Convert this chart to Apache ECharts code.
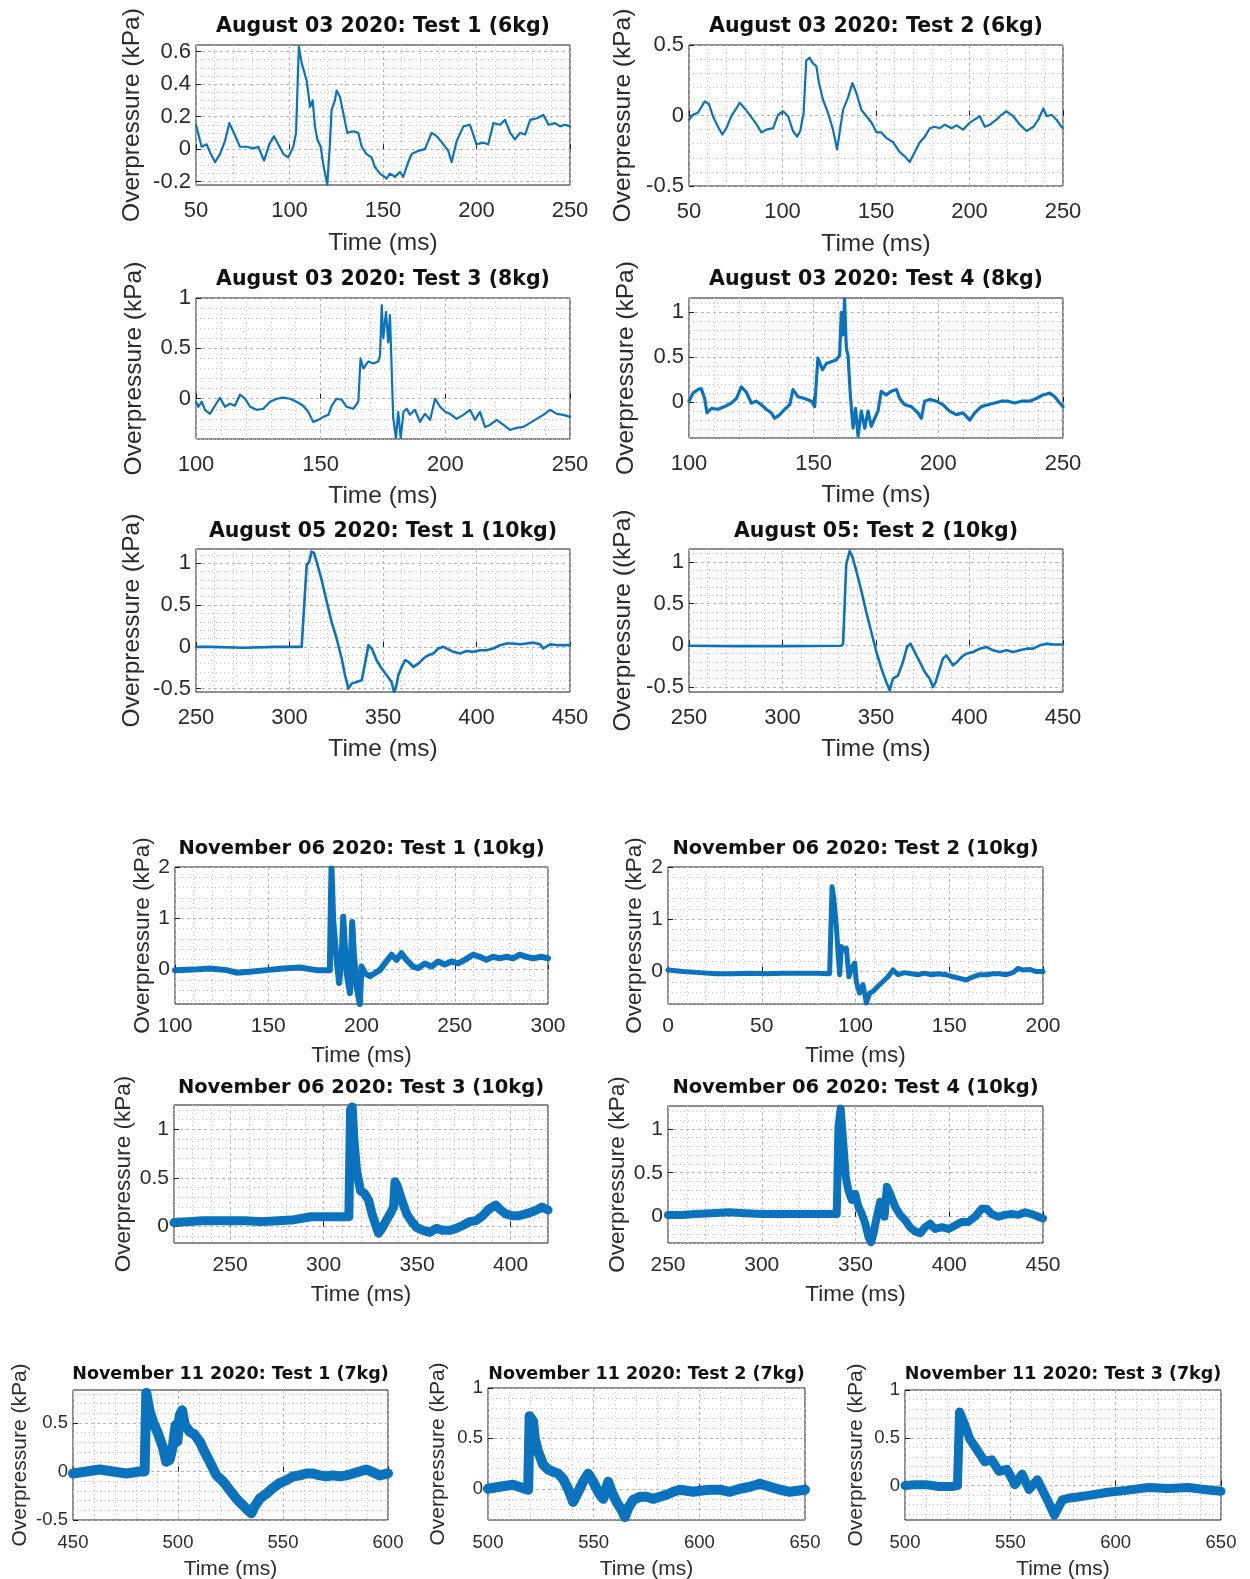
<!DOCTYPE html>
<html>
<head>
<meta charset="utf-8">
<script src="https://cdn.jsdelivr.net/npm/echarts@6/dist/echarts.min.js"></script>
<style>
  html, body { margin: 0; padding: 0; background: #fff; }
  #chart { width: 1250px; height: 1579px; }
</style>
</head>
<body>
<div id="chart"></div>
<script>
// Blast overpressure records: [time (ms), overpressure (kPa)]
const aug03Test1 = [[50,0.15],[53,0.015],[55.7,0.03],[57.5,-0.02],[60.2,-0.08],[62.8,-0.03],[65.5,0.05],[67.8,0.16],[70.3,0.10],[73.5,0.015],[77,0.015],[80.7,0.005],[83.3,0.015],[86.4,-0.07],[89.2,0.03],[91.7,0.08],[94,0.03],[96.7,-0.03],[99.4,-0.05],[102,0.015],[103.5,0.10],[105,0.63],[106.5,0.53],[109.2,0.42],[111,0.26],[112.4,0.30],[113.6,0.14],[114.9,0.06],[116.7,0.015],[118,-0.09],[120.2,-0.22],[121.6,0.03],[122.5,0.24],[124.3,0.30],[125.2,0.36],[127,0.32],[128.8,0.22],[130.9,0.10],[134.1,0.11],[136.8,0.10],[138.6,0.015],[141.2,-0.03],[143.9,-0.05],[145.7,-0.11],[148.4,-0.15],[152,-0.18],[153.7,-0.15],[156.4,-0.17],[159.1,-0.14],[160.8,-0.17],[163.5,-0.08],[165.3,-0.03],[168.9,-0.01],[172.4,0.00],[176,0.10],[178.7,0.08],[182.3,0.03],[184.9,-0.01],[186.7,-0.08],[189.4,0.05],[193,0.14],[196.5,0.15],[200,0.03],[203.7,0.04],[206.3,0.03],[209,0.16],[212.6,0.15],[215.3,0.18],[218,0.10],[220.6,0.06],[223.3,0.10],[226,0.09],[228.7,0.18],[232.3,0.19],[235.8,0.21],[238.5,0.15],[242,0.16],[244.7,0.14],[247.3,0.15],[250,0.14]];

const aug03Test2 = [[50,-0.03],[52.1,0.005],[54.8,0.02],[56.6,0.06],[58.4,0.10],[60.7,0.08],[62.8,-0.005],[65.5,-0.08],[67.8,-0.135],[70,-0.09],[72.6,-0.005],[75.3,0.05],[77.1,0.09],[79.8,0.05],[82.4,0.005],[86,-0.06],[88.7,-0.12],[91.4,-0.10],[95,-0.09],[97.6,0.005],[100.3,0.03],[103,-0.005],[105.6,-0.11],[107.8,-0.15],[109.5,-0.11],[111.3,0.02],[112.7,0.39],[114.5,0.41],[116.3,0.37],[118.1,0.35],[119.5,0.23],[121.7,0.11],[124.3,0.02],[127,-0.10],[129.2,-0.24],[131,-0.08],[132.4,0.04],[135.1,0.13],[137.4,0.23],[139.5,0.16],[142.2,0.04],[144.9,-0.005],[147.6,-0.05],[150.3,-0.12],[152.9,-0.12],[155.6,-0.16],[159.2,-0.19],[162.7,-0.26],[165.4,-0.29],[168,-0.33],[170.7,-0.26],[173.4,-0.19],[176.1,-0.15],[178.8,-0.09],[181.4,-0.08],[184.1,-0.09],[186.8,-0.065],[190.4,-0.09],[193,-0.07],[196.6,-0.10],[200.2,-0.05],[203.7,-0.02],[205.5,-0.005],[208.2,-0.08],[210.9,-0.065],[214.4,-0.03],[217.1,0.005],[219.8,0.03],[223.4,-0.005],[226.9,-0.065],[230.5,-0.11],[234.2,-0.08],[236.8,-0.03],[239.5,0.05],[241.3,-0.005],[243.9,0.005],[246.5,-0.03],[249.2,-0.08],[250,-0.09]];

const aug03Test3 = [[100,-0.03],[100.9,-0.08],[102.3,-0.03],[103.6,-0.11],[105.6,-0.15],[107.6,-0.07],[109.6,0.01],[111.6,-0.08],[113.6,-0.05],[115.6,-0.07],[117.6,0.04],[119.7,0.00],[121.7,-0.08],[124.3,-0.11],[127,-0.10],[129.7,-0.03],[132.4,0.00],[135,0.01],[137.7,0.00],[140.4,-0.03],[143,-0.07],[145,-0.13],[147,-0.23],[149,-0.21],[151.1,-0.18],[153.1,-0.16],[154.4,-0.07],[156.4,0.00],[158.4,-0.01],[160.4,-0.08],[163.1,-0.10],[165.1,-0.03],[166,0.40],[167.1,0.30],[169.1,0.37],[171.1,0.35],[173.1,0.37],[173.8,0.43],[174.5,0.93],[175.1,0.60],[176.2,0.86],[177.1,0.56],[177.8,0.83],[178.5,0.27],[179.1,-0.19],[180.2,-0.39],[181.1,-0.13],[182.1,-0.39],[183.2,-0.13],[184.5,-0.10],[185.8,-0.16],[187.8,-0.11],[189.8,-0.23],[191.8,-0.15],[193.9,-0.21],[195.9,0.00],[197.9,-0.08],[199.9,-0.13],[201.9,-0.15],[204.5,-0.20],[207.2,-0.16],[209.9,-0.11],[211.9,-0.21],[213.9,-0.13],[215.9,-0.28],[217.9,-0.26],[220.6,-0.21],[223.3,-0.26],[225.9,-0.31],[228.6,-0.29],[231.3,-0.28],[234,-0.24],[236.6,-0.20],[239.3,-0.16],[242,-0.11],[244.7,-0.15],[247.3,-0.16],[250,-0.18]];

const aug03Test4 = [[100,0.01],[101.6,0.10],[103.6,0.14],[104.9,0.15],[106.3,0.04],[107.2,-0.12],[109,-0.07],[111.6,-0.08],[114.3,-0.05],[117,-0.01],[119,0.04],[121,0.17],[123,0.11],[125,-0.01],[127,0.01],[129,-0.03],[131,-0.08],[133,-0.12],[134.4,-0.18],[136.4,-0.14],[138.4,-0.08],[140.4,-0.03],[141.7,0.14],[143.7,0.06],[146.4,0.04],[149.1,0.01],[150.4,-0.05],[151.7,0.49],[153.5,0.36],[155.1,0.43],[157.1,0.45],[159.1,0.47],[160.4,0.52],[161.1,1.00],[161.8,0.75],[162.4,1.15],[163.1,0.60],[163.8,0.52],[164.7,0.08],[165.8,-0.29],[166.8,-0.07],[167.8,-0.38],[169.1,-0.10],[170.5,-0.29],[171.8,-0.10],[173.1,-0.27],[174.5,-0.18],[175.8,-0.10],[177.1,0.12],[179.1,0.08],[181.1,0.12],[183.2,0.14],[184.5,0.04],[186.5,-0.03],[189.2,-0.05],[191.8,-0.12],[193.2,-0.18],[194.5,0.01],[196.5,0.03],[199.2,0.01],[201.9,-0.03],[204.5,-0.10],[207.2,-0.14],[209.9,-0.12],[212.6,-0.20],[214.6,-0.12],[217.2,-0.05],[219.9,-0.03],[222.6,-0.01],[225.3,0.01],[227.9,0.01],[230.6,-0.01],[233.3,0.01],[236.6,0.01],[239.3,0.04],[242,0.08],[244.7,0.10],[246.7,0.06],[248.7,-0.01],[250,-0.05]];

const aug05Test1 = [[250,0],[257.5,0],[275.3,-0.01],[293.1,0],[306.5,0],[307.4,0.02],[309.2,0.98],[310.6,1.02],[311.8,1.14],[313.1,1.12],[314.5,1.02],[317.2,0.80],[319.9,0.54],[322.5,0.30],[325.2,0.10],[327.9,-0.14],[329.7,-0.34],[331.5,-0.50],[333.2,-0.44],[335.9,-0.42],[338.6,-0.40],[340.4,-0.20],[342.2,0.02],[344,-0.02],[346.6,-0.16],[349.3,-0.26],[352,-0.34],[354.6,-0.42],[355.9,-0.54],[357,-0.48],[358.2,-0.34],[360,-0.24],[361.8,-0.16],[363.6,-0.18],[366.2,-0.24],[368.9,-0.20],[371.6,-0.14],[374.2,-0.10],[376.9,-0.08],[379.6,-0.02],[382.3,0],[384.9,-0.03],[387.6,-0.06],[391.2,-0.08],[394.7,-0.05],[398.3,-0.06],[401.9,-0.04],[405.4,-0.04],[409,-0.02],[412.6,0.02],[416.1,0.04],[419.7,0.04],[423.3,0.03],[426.8,0.04],[430.4,0.05],[434,0.03],[435.7,-0.02],[439.3,0.03],[443.7,0.02],[450,0.02]];

const aug05Test2 = [[250,-0.005],[273.5,-0.01],[300.3,-0.01],[331.5,-0.005],[332.4,0.02],[334.1,0.97],[335.9,1.13],[337.3,1.07],[339.5,0.89],[342.2,0.65],[344.8,0.40],[347.5,0.16],[350.2,-0.08],[352.9,-0.28],[355.5,-0.44],[357.3,-0.54],[359.1,-0.40],[361.8,-0.36],[364.4,-0.20],[366.6,-0.02],[368.4,0.02],[370.7,-0.08],[373.4,-0.20],[376.1,-0.32],[378.7,-0.40],[380.5,-0.50],[381.9,-0.44],[384.1,-0.28],[385.8,-0.16],[387.6,-0.12],[389.4,-0.18],[391.2,-0.24],[393.4,-0.20],[395.7,-0.14],[398.4,-0.10],[401.9,-0.08],[405.5,-0.04],[409.1,-0.02],[412.6,-0.06],[416.2,-0.08],[419.8,-0.06],[423.3,-0.08],[426.9,-0.06],[430.5,-0.04],[434,-0.04],[437.6,0],[441.2,0.02],[444.7,0.01],[450,0.01]];

const nov06Test1 = [[100,-0.01],[109.8,0.00],[118.8,0.02],[127.7,-0.01],[133,-0.06],[140.2,-0.04],[149.1,-0.01],[158,0.02],[167,0.04],[175.9,-0.01],[183,-0.01],[183.9,1.97],[184.8,0.97],[186.3,0.32],[188,-0.26],[189.3,0.19],[190.2,1.03],[191.1,0.45],[192.3,-0.13],[193.8,-0.46],[195,0.93],[195.9,0.32],[197.3,-0.33],[199.1,-0.67],[200,0.06],[201.8,-0.07],[204.5,-0.13],[207.1,-0.07],[209.8,-0.01],[212.5,0.12],[216.1,0.29],[218.8,0.19],[221.4,0.32],[224.1,0.19],[227.7,0.06],[230.4,0.03],[233.9,0.12],[237.5,0.06],[241.1,0.16],[244.6,0.10],[248.2,0.16],[251.8,0.12],[255.4,0.19],[259.8,0.29],[263.4,0.25],[267,0.19],[270.5,0.25],[274.1,0.22],[277.7,0.25],[281.3,0.22],[284.8,0.29],[288.4,0.25],[292,0.22],[296.4,0.25],[300,0.22]];

const nov06Test2 = [[0,0.03],[8,0],[16.9,-0.02],[25.8,-0.04],[34.7,-0.04],[43.6,-0.03],[52.4,-0.04],[61.3,-0.03],[70.2,-0.03],[79.1,-0.03],[86.2,-0.04],[87.5,1.62],[88.5,1.37],[89.8,0.86],[90.7,0.35],[91.6,-0.06],[92.4,0.48],[93.7,0.41],[95.1,0.45],[96.5,-0.10],[97.8,0.06],[99.6,0.16],[100.4,-0.19],[102.2,-0.41],[104,-0.25],[105.8,-0.60],[107.6,-0.41],[109.3,-0.38],[112,-0.28],[114.7,-0.19],[117.3,-0.10],[120,0.03],[122.7,-0.06],[126.2,-0.02],[129.8,-0.04],[133.3,-0.06],[136.9,-0.03],[140.4,-0.06],[144,-0.04],[148.4,-0.06],[152,-0.10],[155.6,-0.13],[159.1,-0.16],[162.7,-0.10],[166.2,-0.06],[169.8,-0.06],[173.3,-0.04],[176.9,-0.04],[180.4,-0.06],[184,-0.02],[186.7,0.06],[189.3,0.03],[192.9,0.04],[196.4,0],[200,0]];

const nov06Test3 = [[220,0.04],[227.9,0.05],[235,0.06],[242,0.06],[250,0.06],[257.9,0.06],[266.8,0.05],[275.6,0.06],[284.4,0.07],[293.2,0.10],[302.1,0.10],[309.1,0.10],[313.5,0.10],[314.4,1.20],[315.3,1.23],[316.2,0.89],[317.6,0.58],[319.7,0.37],[321.8,0.34],[324.1,0.27],[325.9,0.13],[327.6,0.03],[329.4,-0.07],[331.2,-0.02],[333.5,0.06],[335.6,0.13],[337.4,0.20],[338.2,0.46],[339.5,0.41],[341.8,0.27],[344.4,0.13],[347.1,0.05],[349.7,-0.01],[353.2,-0.04],[356.8,-0.06],[360.3,-0.02],[363.8,-0.04],[367.4,-0.04],[370.9,-0.02],[374.4,0.01],[378,0.05],[381.5,0.06],[385,0.11],[388.5,0.18],[392.1,0.22],[394.7,0.17],[397.4,0.13],[400.9,0.11],[404.4,0.11],[408,0.13],[411.5,0.15],[415,0.18],[416.8,0.20],[420,0.17]];

const nov06Test4 = [[250,0.02],[257.5,0.02],[264.6,0.03],[273.4,0.04],[282.3,0.05],[291.2,0.04],[300,0.03],[308.9,0.03],[317.8,0.03],[326.7,0.03],[335.5,0.03],[340,0.03],[340.9,1.02],[342.1,1.23],[343.6,0.80],[344.8,0.45],[346.2,0.30],[348,0.19],[349.8,0.26],[351.6,0.11],[353.4,0.03],[355.2,-0.08],[356.9,-0.23],[358.3,-0.29],[359.6,-0.19],[361.4,0.00],[363.2,0.17],[364.4,0.11],[365.5,0.00],[366.7,0.34],[368.5,0.26],[371.2,0.11],[373.8,0.02],[376.5,-0.04],[379.1,-0.12],[381.8,-0.17],[384.5,-0.19],[387.1,-0.12],[389.8,-0.08],[392.5,-0.14],[396,-0.12],[399.6,-0.14],[403.1,-0.10],[406.7,-0.06],[410.2,-0.06],[413.8,0.00],[417.3,0.09],[420,0.09],[422.6,0.03],[426.2,0.00],[429.7,0.02],[433.3,0.03],[436.8,0.02],[440.4,0.05],[443.9,0.03],[447.5,0.00],[450,-0.02]];

const nov11Test1 = [[450,-0.02],[456.3,0.00],[462.7,0.02],[469,0.00],[475.4,-0.02],[481.7,0.00],[484.1,0.00],[484.9,0.81],[486.5,0.62],[488.1,0.51],[490.5,0.39],[492.9,0.24],[494.4,0.10],[496,0.12],[497.6,0.27],[498.9,0.48],[499.7,0.31],[500.8,0.58],[502,0.63],[503.2,0.48],[505.6,0.41],[507.9,0.38],[510.3,0.31],[512.7,0.20],[515.1,0.10],[518.3,-0.04],[521.4,-0.10],[524.6,-0.19],[527.8,-0.28],[531,-0.35],[533.3,-0.40],[534.9,-0.43],[536.5,-0.36],[538.9,-0.28],[542.1,-0.23],[545.2,-0.17],[548.4,-0.12],[551.6,-0.09],[554.8,-0.05],[557.9,-0.04],[561.1,-0.02],[564.3,-0.02],[567.5,-0.04],[570.6,-0.05],[573.8,-0.04],[577,-0.05],[580.2,-0.04],[583.3,-0.02],[586.5,0.00],[589.7,0.02],[592.9,-0.01],[596,-0.04],[600,-0.02]];

const nov11Test2 = [[500,0.00],[505.5,0.02],[511.8,0.04],[517.4,0.00],[519,-0.01],[519.7,0.72],[521.3,0.67],[522.1,0.50],[523.7,0.37],[526.1,0.24],[528.4,0.19],[530.8,0.17],[533.2,0.15],[535.5,0.10],[537.9,0.00],[540.3,-0.13],[542.7,-0.03],[545,0.07],[547.4,0.15],[549.8,0.07],[552.1,-0.03],[554.5,-0.10],[556.9,0.07],[558.5,-0.03],[560.8,-0.13],[563.2,-0.21],[564.8,-0.28],[566.4,-0.19],[568.7,-0.11],[571.9,-0.08],[575,-0.08],[578.2,-0.10],[581.4,-0.08],[584.5,-0.06],[587.7,-0.03],[590.8,-0.01],[594,-0.02],[597.2,-0.03],[600.3,-0.02],[605,-0.01],[609.8,-0.01],[614.5,-0.03],[619.2,0.00],[624,0.02],[628.7,0.05],[633.4,0.02],[638.2,-0.01],[642.9,-0.03],[650,-0.01]];

const nov11Test3 = [[500,0],[505,0.01],[510,0.01],[516,-0.01],[522,-0.01],[524.9,0],[525.9,0.77],[528.3,0.64],[530.7,0.49],[534,0.38],[537.9,0.25],[541.2,0.27],[544.6,0.15],[548.4,0.17],[552.2,0.01],[555.6,0.12],[558.9,-0.04],[562.8,0.06],[567.6,-0.15],[570.9,-0.31],[574.7,-0.15],[578,-0.13],[581.9,-0.12],[588,-0.10],[596.3,-0.07],[605,-0.05],[615.5,-0.02],[625,-0.03],[634.6,-0.02],[642,-0.04],[650,-0.06]];

// Axis limits and tick labels for each test
const xLimits = [[50,250],[50,250],[100,250],[100,250],[250,450],[250,450],[100,300],[0,200],[220,420],[250,450],[450,600],[500,650],[500,650]];
const yLimits = [[-0.22,0.64],[-0.5,0.5],[-0.4,1],[-0.4,1.16],[-0.54,1.17],[-0.56,1.155],[-0.67,2],[-0.62,2],[-0.17,1.25],[-0.3,1.26],[-0.5,0.84],[-0.31,1],[-0.36,1]];
const xTickLabels = [
  [50,100,150,200,250],[50,100,150,200,250],[100,150,200,250],[100,150,200,250],
  [250,300,350,400,450],[250,300,350,400,450],[100,150,200,250,300],[0,50,100,150,200],
  [250,300,350,400],[250,300,350,400,450],[450,500,550,600],[500,550,600,650],[500,550,600,650]
];
const yTickLabels = [
  [-0.2,0,0.2,0.4,0.6],[-0.5,0,0.5],[0,0.5,1],[0,0.5,1],[-0.5,0,0.5,1],[-0.5,0,0.5,1],
  [0,1,2],[0,1,2],[0,0.5,1],[0,0.5,1],[-0.5,0,0.5],[0,0.5,1],[0,0.5,1]
];
const titles = [
  'August 03 2020: Test 1 (6kg)', 'August 03 2020: Test 2 (6kg)',
  'August 03 2020: Test 3 (8kg)', 'August 03 2020: Test 4 (8kg)',
  'August 05 2020: Test 1 (10kg)', 'August 05: Test 2 (10kg)',
  'November 06 2020: Test 1 (10kg)', 'November 06 2020: Test 2 (10kg)',
  'November 06 2020: Test 3 (10kg)', 'November 06 2020: Test 4 (10kg)',
  'November 11 2020: Test 1 (7kg)', 'November 11 2020: Test 2 (7kg)', 'November 11 2020: Test 3 (7kg)'
];
const yNames = [
  'Overpressure (kPa)', 'Overpressure (kPa)', 'Overpressure (kPa)', 'Overpressure (kPa)',
  'Overpressure (kPa)', 'Overpressure ((kPa)', 'Overpressure (kPa)', 'Overpressure (kPa)',
  'Overpressure (kPa)', 'Overpressure (kPa)', 'Overpressure (kPa)', 'Overpressure (kPa)', 'Overpressure (kPa)'
];
const xName = 'Time (ms)';
const traces = [aug03Test1, aug03Test2, aug03Test3, aug03Test4, aug05Test1, aug05Test2,
  nov06Test1, nov06Test2, nov06Test3, nov06Test4, nov11Test1, nov11Test2, nov11Test3];

// Page layout: plot box (left, top, right, bottom), title centre, label distances, text sizes
const textSizes = {
  big:   { title: 20.5, tick: 22, name: 24.5 },
  mid:   { title: 19.5, tick: 21, name: 22.5 },
  small: { title: 17.5, tick: 18.5, name: 21 }
};
const boxes = [
  { l: 196, t: 45,   r: 570,  b: 185,  tc: 27,   yd: 64, xt: 26, xn: 58, size: 'big',   w: 2.2, xm: 10, ym: 0.05 },
  { l: 689, t: 45,   r: 1063, b: 186,  tc: 27,   yd: 66, xt: 26, xn: 58, size: 'big',   w: 2.2, xm: 10, ym: 0.1 },
  { l: 196, t: 298,  r: 570,  b: 439,  tc: 280,  yd: 62, xt: 26, xn: 57, size: 'big',   w: 2.2, xm: 10, ym: 0.1 },
  { l: 689, t: 298,  r: 1063, b: 438,  tc: 280,  yd: 63, xt: 26, xn: 57, size: 'big',   w: 3.2, xm: 10, ym: 0.1 },
  { l: 196, t: 549,  r: 570,  b: 692,  tc: 532,  yd: 64, xt: 26, xn: 57, size: 'big',   w: 2.6, xm: 10, ym: 0.1 },
  { l: 689, t: 549,  r: 1063, b: 692,  tc: 532,  yd: 66, xt: 26, xn: 57, size: 'big',   w: 2.6, xm: 10, ym: 0.1 },
  { l: 175, t: 867,  r: 548,  b: 1004, tc: 849,  yd: 31, xt: 22, xn: 52, size: 'mid',   w: 6,   xm: 10, ym: 0.2 },
  { l: 668, t: 867,  r: 1043, b: 1004, tc: 849,  yd: 33, xt: 22, xn: 52, size: 'mid',   w: 5,   xm: 10, ym: 0.2 },
  { l: 174, t: 1105, r: 548,  b: 1243, tc: 1088, yd: 50, xt: 22, xn: 52, size: 'mid',   w: 9,   xm: 10, ym: 0.1 },
  { l: 668, t: 1106, r: 1043, b: 1243, tc: 1088, yd: 50, xt: 22, xn: 52, size: 'mid',   w: 8,   xm: 10, ym: 0.1 },
  { l: 73,  t: 1390, r: 388,  b: 1520, tc: 1374, yd: 53, xt: 23, xn: 49, size: 'small', w: 10,  xm: 10, ym: 0.1 },
  { l: 488, t: 1388, r: 805,  b: 1520, tc: 1374, yd: 50, xt: 23, xn: 49, size: 'small', w: 10,  xm: 10, ym: 0.1 },
  { l: 905, t: 1390, r: 1221, b: 1520, tc: 1374, yd: 49, xt: 23, xn: 49, size: 'small', w: 9,   xm: 10, ym: 0.1 }
];

const TRACE_COLOR = '#0b72bd';
const LABEL_COLOR = '#2b2b2b';

function minorValues(lo, hi, step, majors) {
  const out = [];
  const start = Math.ceil(lo / step - 1e-9);
  for (let k = start; k * step <= hi + 1e-9; k++) {
    const v = +(k * step).toFixed(6);
    if (!majors.some(m => Math.abs(m - v) < 1e-9)) out.push(v);
  }
  return out;
}

const option = {
  animation: false,
  backgroundColor: '#ffffff',
  title: [], grid: [], xAxis: [], yAxis: [], series: []
};

traces.forEach((trace, i) => {
  const b = boxes[i];
  const f = textSizes[b.size];
  const [x0, x1] = xLimits[i];
  const [y0, y1] = yLimits[i];

  option.grid.push({
    left: b.l, top: b.t, width: b.r - b.l, height: b.b - b.t,
    show: true, borderColor: '#1a1a1a', borderWidth: 1, backgroundColor: 'transparent',
    containLabel: false, outerBoundsMode: 'none'
  });

  option.title.push({
    text: titles[i],
    left: (b.l + b.r) / 2, top: b.tc - f.title / 2, textAlign: 'center', padding: 0,
    textStyle: { fontFamily: 'DejaVu Sans', fontWeight: 'bold', fontSize: f.title, lineHeight: f.title, color: '#111' }
  });

  const nameStyle = { fontFamily: 'Liberation Sans', fontSize: f.name, color: LABEL_COLOR };
  const tickStyle = { fontFamily: 'Liberation Sans', fontSize: f.tick, color: LABEL_COLOR };

  // major x axis
  option.xAxis.push({
    gridIndex: i, type: 'value', min: x0, max: x1, position: 'bottom',
    name: xName, nameLocation: 'middle', nameGap: b.xn - f.name / 2, nameTextStyle: nameStyle,
    axisLine: { show: false },
    axisTick: { show: true, inside: true, length: 5, customValues: xTickLabels[i], lineStyle: { color: '#1a1a1a' } },
    axisLabel: Object.assign({ customValues: xTickLabels[i], margin: b.xt - f.tick / 2 }, tickStyle),
    splitLine: { show: true, lineStyle: { color: '#b4b4b4', width: 1, type: [3, 3] } }
  });
  // minor x grid
  const xMinor = minorValues(x0, x1, b.xm, xTickLabels[i]);
  option.xAxis.push({
    gridIndex: i, type: 'value', min: x0, max: x1, position: 'top',
    axisLine: { show: false },
    axisTick: { show: false, customValues: xMinor },
    axisLabel: { show: false, customValues: xMinor },
    splitLine: { show: true, lineStyle: { color: '#c4c4c4', width: 1, type: [1, 3] } }
  });

  // major y axis
  option.yAxis.push({
    gridIndex: i, type: 'value', min: y0, max: y1, position: 'left',
    name: yNames[i], nameLocation: 'middle', nameGap: b.yd - f.name / 2, nameTextStyle: nameStyle,
    axisLine: { show: false },
    axisTick: { show: true, inside: true, length: 5, customValues: yTickLabels[i], lineStyle: { color: '#1a1a1a' } },
    axisLabel: Object.assign({ customValues: yTickLabels[i], margin: 5 }, tickStyle),
    splitLine: { show: true, lineStyle: { color: '#b4b4b4', width: 1, type: [3, 3] } }
  });
  // minor y grid
  const yMinor = minorValues(y0, y1, b.ym, yTickLabels[i]);
  option.yAxis.push({
    gridIndex: i, type: 'value', min: y0, max: y1, position: 'right',
    axisLine: { show: false },
    axisTick: { show: false, customValues: yMinor },
    axisLabel: { show: false, customValues: yMinor },
    splitLine: { show: true, lineStyle: { color: '#c4c4c4', width: 1, type: [1, 3] } }
  });

  option.series.push({
    type: 'line', xAxisIndex: 2 * i, yAxisIndex: 2 * i,
    data: trace, showSymbol: false, symbol: 'none', clip: true, smooth: false,
    lineStyle: { color: TRACE_COLOR, width: b.w, join: 'round', cap: 'round' },
    emphasis: { disabled: true }, z: 3
  });
});

const chart = echarts.init(document.getElementById('chart'), null, { renderer: 'canvas', width: 1250, height: 1579 });
chart.setOption(option);
</script>
</body>
</html>
